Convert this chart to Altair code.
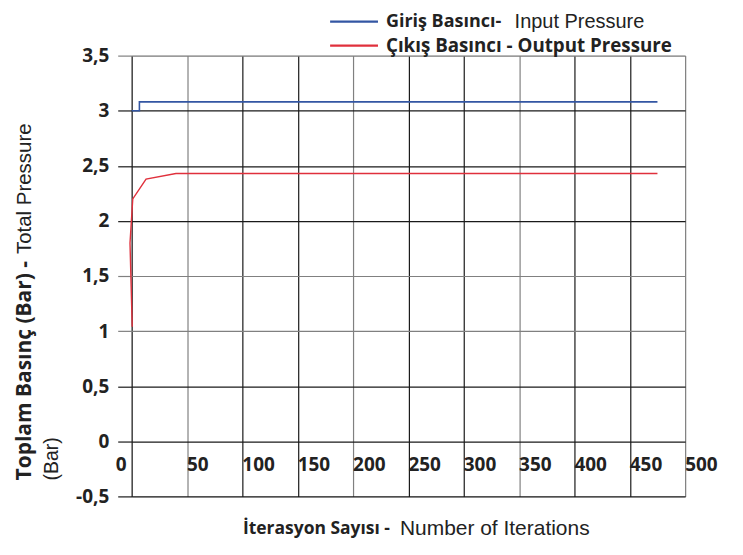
import altair as alt
import pandas as pd

# ---- data ----
in_x = [0, 7, 7, 475]
in_y = [3.0, 3.0, 3.08, 3.08]
out_x = [0.5, -1.5, 1, 13, 40, 475]
out_y = [1.04, 1.8, 2.2, 2.38, 2.43, 2.43]
x_ticks = [0, 50, 100, 150, 200, 250, 300, 350, 400, 450, 500]
y_ticks = [-0.5, 0, 0.5, 1, 1.5, 2, 2.5, 3, 3.5]

BOLD = "Open Sans"
REG = "Liberation Sans"
BLUE = "#3356a3"
RED = "#e0303c"
INK = "#222222"

W, H = 555, 442

df_in = pd.DataFrame({"x": in_x, "y": in_y, "i": range(len(in_x))})
df_out = pd.DataFrame({"x": out_x, "y": out_y, "i": range(len(out_x))})
df_xt = pd.DataFrame({"x": x_ticks, "lab": [str(v) for v in x_ticks]})

xs = alt.Scale(domain=[0, 500], nice=False, zero=False)
ys = alt.Scale(domain=[-0.5, 3.5], nice=False, zero=False)

gray_x = "datum.value == 50 || datum.value == 200 || datum.value == 350 || datum.value == 500"
gray_y = "datum.value == 3.5 || datum.value == 1.5 || datum.value == 1"

x_axis = alt.Axis(values=x_ticks, grid=True, labels=False, ticks=False, domain=False, title=None,
                  gridColor={"condition": {"test": gray_x, "value": "#808080"}, "value": "#1a1a1a"},
                  gridWidth=1.2, gridOpacity=1)
y_axis = alt.Axis(values=y_ticks, grid=True, ticks=True, tickSize=14, domain=False, title=None,
                  gridColor={"condition": {"test": gray_y, "value": "#808080"}, "value": "#1a1a1a"},
                  tickColor={"condition": {"test": gray_y, "value": "#808080"}, "value": "#1a1a1a"},
                  gridWidth=1.2, tickWidth=1.2, gridOpacity=1,
                  labelExpr="replace(replace(format(datum.value, '.1~f'), '.', ','), '\u2212', '-')",
                  labelFont=BOLD, labelFontWeight="bold", labelFontSize=19, labelColor=INK,
                  labelPadding=9)

base_in = alt.Chart(df_in).mark_line(color=BLUE, strokeWidth=1.6).encode(
    x=alt.X("x:Q", scale=xs, axis=x_axis),
    y=alt.Y("y:Q", scale=ys, axis=y_axis),
    order="i:O",
)
line_out = alt.Chart(df_out).mark_line(color=RED, strokeWidth=1.4).encode(
    x=alt.X("x:Q", scale=xs),
    y=alt.Y("y:Q", scale=ys),
    order="i:O",
)

xt_zero = alt.Chart(df_xt).transform_filter("datum.x == 0").mark_text(
    font=BOLD, fontWeight="bold", fontSize=19, color=INK, align="right", baseline="middle", dx=-5
).encode(x=alt.X("x:Q", scale=xs), y=alt.value(411), text="lab:N")
xt_rest = alt.Chart(df_xt).transform_filter("datum.x > 0").mark_text(
    font=BOLD, fontWeight="bold", fontSize=19, color=INK, align="left", baseline="middle", dx=0
).encode(x=alt.X("x:Q", scale=xs), y=alt.value(411), text="lab:N")

one = pd.DataFrame({"a": [0]})

def txt(s, x, y, font, weight, size, align="left", angle=0):
    return alt.Chart(one).mark_text(
        text=s, font=font, fontWeight=weight, fontSize=size, color=INK,
        align=align, baseline="middle", angle=angle
    ).encode(x=alt.value(x), y=alt.value(y))

def seg(x1, x2, y, color):
    return alt.Chart(one).mark_rule(color=color, strokeWidth=2.2).encode(
        x=alt.value(x1), x2=alt.value(x2), y=alt.value(y))

legend = [
    seg(199, 247, -34, BLUE),
    seg(199, 247, -10, RED),
    txt("Giriş Basıncı-", 255, -34, BOLD, "bold", 18),
    txt("Input  Pressure", 384, -34, REG, "normal", 20),
    txt("Çıkış Basıncı - Output Pressure", 255, -10, BOLD, "bold", 18.8),
]
titles = [
    txt("İterasyon Sayısı -", 259, 475, BOLD, "bold", 17.5, align="right"),
    txt("Number of Iterations", 269, 475, REG, "normal", 21),
    txt("Toplam Basınç  (Bar)  -", -107, 426, BOLD, "bold", 21, angle=270),
    txt("Total Pressure", -107, 199, REG, "normal", 20.5, angle=270),
    txt("(Bar)", -80, 426, REG, "normal", 19.5, angle=270),
]

chart = alt.layer(base_in, line_out, xt_zero, xt_rest, *legend, *titles).properties(
    width=W, height=H,
    padding={"left": 124, "top": 47, "right": 50, "bottom": 50},
    autosize="none",
).configure_view(stroke=None).configure(background="white")

chart.save("out.html", embed_options={"renderer": "svg", "actions": False})
